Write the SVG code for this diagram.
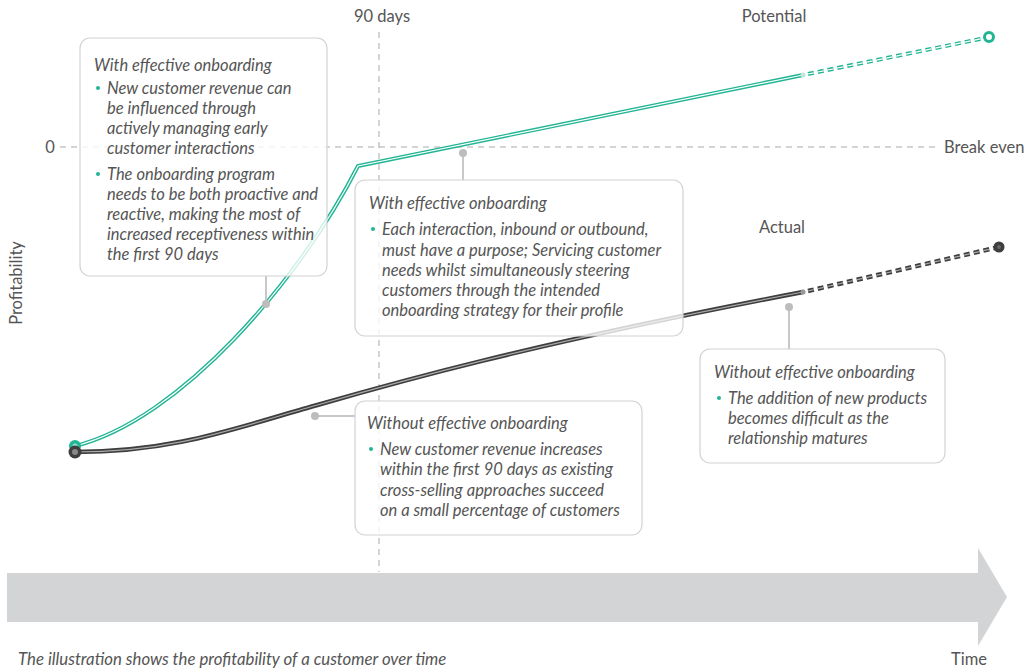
<svg xmlns="http://www.w3.org/2000/svg" width="1027" height="670" viewBox="0 0 1027 670">
<style>
.lbl{font-family:Lato,"Open Sans","Liberation Sans",sans-serif;font-size:16.5px;fill:#555}
.it{font-family:Lato,"Open Sans","Liberation Sans",sans-serif;font-size:16.5px;font-style:italic;fill:#555}
.guide{stroke:#aaa;stroke-width:1;stroke-dasharray:6,5;fill:none}
.box{fill:#fff;fill-opacity:0.78;stroke:#d2d2d2;stroke-width:1.2}
.gO{stroke:#22b594;stroke-width:4;fill:none;stroke-linecap:round}
.gI{stroke:#fff;stroke-width:1.2;fill:none}
.dO{stroke:#3e3e3e;stroke-width:4.5;fill:none;stroke-linecap:round}
.dI{stroke:#aaa;stroke-width:1.2;fill:none}
.dash{stroke-dasharray:6,4;stroke-linecap:butt}
.conn{stroke:#c8c8c8;stroke-width:2;fill:none}
.dot{fill:#bdbdbd}
.bul{fill:#22b594}
</style>
<!-- time arrow -->
<polygon points="7,573 978,573 978,548 1007,597 978,646 978,622 7,622" fill="#d3d4d6"/>
<!-- guides -->
<g id="guides">
<line class="guide" x1="379" y1="32" x2="379" y2="572"/>
<line class="guide" x1="60" y1="147" x2="938" y2="147"/>
</g>
<text class="lbl" x="382" y="22" text-anchor="middle">90 days</text>
<text class="lbl" x="50" y="153" text-anchor="middle">0</text>
<text class="lbl" x="944" y="153">Break even</text>
<text class="lbl" x="774" y="22" text-anchor="middle">Potential</text>
<text class="lbl" x="782" y="233" text-anchor="middle">Actual</text>
<text class="lbl" transform="translate(22,283) rotate(-90)" text-anchor="middle">Profitability</text>
<!-- connectors / curves -->
<g id="connectors">
<path class="gO" d="M75,446 C180,420 300,280 358,166 L803,75"/>
<path class="gI" d="M75,446 C180,420 300,280 358,166 L803,75"/>
<line class="gO dash" x1="808" y1="74" x2="985" y2="38"/>
<line class="gI dash" x1="808" y1="74" x2="985" y2="38"/>
<circle cx="803" cy="75" r="2.5" fill="#bfe8da"/>
<path class="dO" d="M75,452 C170,452 230,430 300,410 S500,350 803,292"/>
<path class="dI" d="M75,452 C170,452 230,430 300,410 S500,350 803,292"/>
<line class="dO dash" x1="808" y1="291" x2="995" y2="248"/>
<line class="dI dash" x1="808" y1="291" x2="995" y2="248"/>
<circle cx="803" cy="292" r="2.5" fill="#999"/>
<circle cx="75" cy="446" r="6" fill="#22b594"/>
<circle cx="75" cy="446" r="2.5" fill="#9fe0cc"/>
<circle cx="75" cy="452" r="6.5" fill="#3e3e3e"/>
<circle cx="75" cy="452" r="3" fill="#888"/>
<circle cx="989" cy="37" r="4.5" fill="#fff" stroke="#22b594" stroke-width="3"/>
<circle cx="999" cy="247" r="5.5" fill="#3e3e3e"/>
<circle cx="999" cy="247" r="2" fill="#666"/>
<!-- callout connectors -->
<line class="conn" x1="266" y1="276" x2="266" y2="304"/>
<circle class="dot" cx="266" cy="304" r="4"/>
<line class="conn" x1="463" y1="153" x2="463" y2="180"/>
<circle class="dot" cx="463" cy="153" r="4"/>
<line class="conn" x1="315" y1="416" x2="355" y2="416"/>
<circle class="dot" cx="315" cy="416" r="4"/>
<line class="conn" x1="789" y1="307" x2="789" y2="349"/>
<circle class="dot" cx="789" cy="307" r="4"/>
</g>
<g id="box1">
<rect class="box" x="80" y="38" width="247" height="238" rx="10"/>
<text class="it" x="94" y="71">With effective onboarding</text>
<circle class="bul" cx="98" cy="88" r="2"/>
<text class="it" x="107" y="94">New customer revenue can</text>
<text class="it" x="107" y="114">be influenced through</text>
<text class="it" x="107" y="134">actively managing early</text>
<text class="it" x="107" y="154">customer interactions</text>
<circle class="bul" cx="98" cy="174" r="2"/>
<text class="it" x="107" y="180">The onboarding program</text>
<text class="it" x="107" y="200">needs to be both proactive and</text>
<text class="it" x="107" y="220">reactive, making the most of</text>
<text class="it" x="107" y="240">increased receptiveness within</text>
<text class="it" x="107" y="260">the first 90 days</text>
</g>
<g id="box2">
<rect class="box" x="355" y="180" width="328" height="156" rx="10"/>
<text class="it" x="369" y="209">With effective onboarding</text>
<circle class="bul" cx="373" cy="229" r="2"/>
<text class="it" x="382" y="235">Each interaction, inbound or outbound,</text>
<text class="it" x="382" y="256">must have a purpose; Servicing customer</text>
<text class="it" x="382" y="276">needs whilst simultaneously steering</text>
<text class="it" x="382" y="296">customers through the intended</text>
<text class="it" x="382" y="316">onboarding strategy for their profile</text>
</g>
<g id="box3">
<rect class="box" x="355" y="401" width="287" height="134" rx="10"/>
<text class="it" x="367" y="429">Without effective onboarding</text>
<circle class="bul" cx="371" cy="449" r="2"/>
<text class="it" x="380" y="455">New customer revenue increases</text>
<text class="it" x="380" y="475">within the first 90 days as existing</text>
<text class="it" x="380" y="496">cross-selling approaches succeed</text>
<text class="it" x="380" y="516">on a small percentage of customers</text>
</g>
<g id="box4">
<rect class="box" x="700" y="349" width="245" height="114" rx="10"/>
<text class="it" x="714" y="378">Without effective onboarding</text>
<circle class="bul" cx="719" cy="398" r="2"/>
<text class="it" x="728" y="404">The addition of new products</text>
<text class="it" x="728" y="424">becomes difficult as the</text>
<text class="it" x="728" y="444">relationship matures</text>
</g>
<text class="it" x="18" y="665" style="font-size:16.8px">The illustration shows the profitability of a customer over time</text>
<text class="lbl" x="951" y="665">Time</text>
</svg>
